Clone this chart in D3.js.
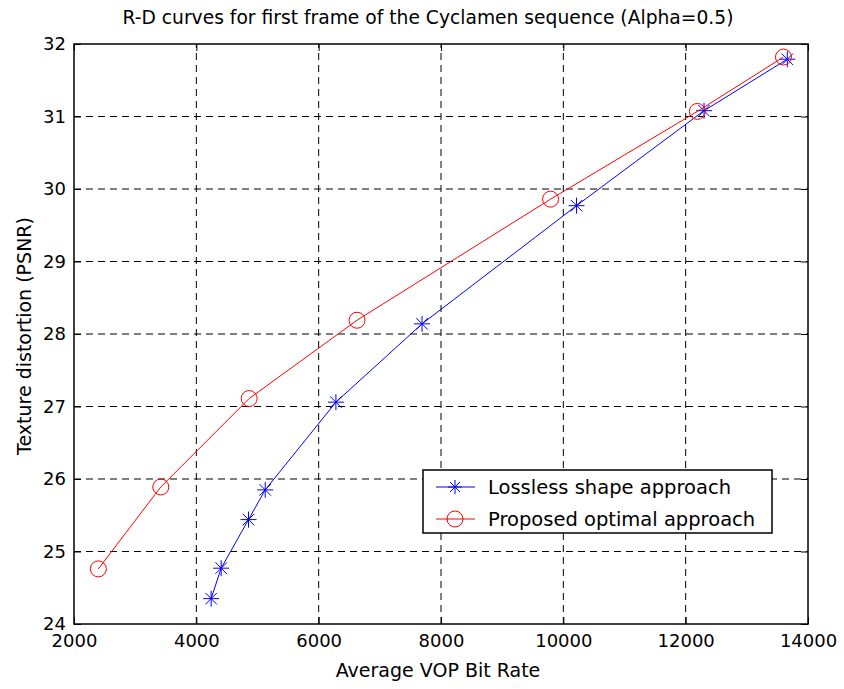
<!DOCTYPE html>
<html lang="en">
<head>
<meta charset="utf-8">
<title>R-D curves</title>
<script src="https://d3js.org/d3.v7.min.js"></script>
<style>
  body { margin: 0; background: #fff; }
  svg text { font-family: "DejaVu Sans", Arial, sans-serif; fill: #000; }
  .grid line { stroke: #000; stroke-dasharray: 7,5; stroke-width: 1; }
</style>
</head>
<body>
<div id="chart"></div>
<script>
  // bit rate (x) and PSNR (y) for both approaches
  var losslessRate = [4242, 4406, 4853, 5126, 6282, 7690, 10216, 12300, 13662];
  var losslessPsnr = [24.35, 24.77, 25.44, 25.85, 27.06, 28.14, 29.77, 31.08, 31.79];
  var optimalRate = [2398, 3419, 4864, 6627, 9791, 12191, 13599];
  var optimalPsnr = [24.76, 25.89, 27.11, 28.19, 29.86, 31.07, 31.82];
  var xTicks = [2000, 4000, 6000, 8000, 10000, 12000, 14000];
  var yTicks = [24, 25, 26, 27, 28, 29, 30, 31, 32];
  var seriesNames = ["Lossless shape approach", "Proposed optimal approach"];

  var width = 844, height = 689;
  var margin = {left: 74, right: 36, top: 44, bottom: 65};

  var svg = d3.select("#chart").append("svg")
      .attr("width", width)
      .attr("height", height);

  var x = d3.scaleLinear().domain([2000, 14000]).range([margin.left, width - margin.right]);
  var y = d3.scaleLinear().domain([24, 32]).range([height - margin.bottom, margin.top]);

  // grid
  var grid = svg.append("g").attr("class", "grid");
  grid.selectAll("line.v").data(xTicks.slice(1, -1)).enter().append("line")
      .attr("x1", function(d) { return x(d); }).attr("x2", function(d) { return x(d); })
      .attr("y1", y(24)).attr("y2", y(32));
  grid.selectAll("line.h").data(yTicks.slice(1, -1)).enter().append("line")
      .attr("y1", function(d) { return y(d); }).attr("y2", function(d) { return y(d); })
      .attr("x1", x(2000)).attr("x2", x(14000));

  // axes (ticks inside, like matlab)
  function styleAxis(g) {
    g.select(".domain").remove();
    g.selectAll(".tick line").attr("stroke", "#000").attr("stroke-width", 1);
    g.selectAll(".tick text").attr("font-size", "18px").attr("fill", "#000")
      .attr("font-family", "DejaVu Sans, Arial, sans-serif");
  }
  svg.append("g").attr("transform", "translate(0," + y(24) + ")")
      .call(d3.axisBottom(x).tickValues(xTicks).tickSize(-7).tickPadding(10).tickFormat(d3.format("d")))
      .call(styleAxis);
  svg.append("g").attr("transform", "translate(0," + y(32) + ")")
      .call(d3.axisTop(x).tickValues(xTicks).tickSize(-7).tickFormat(""))
      .call(styleAxis);
  svg.append("g").attr("transform", "translate(" + x(2000) + ",0)")
      .call(d3.axisLeft(y).tickValues(yTicks).tickSize(-7).tickPadding(8).tickFormat(d3.format("d")))
      .call(styleAxis);
  svg.append("g").attr("transform", "translate(" + x(14000) + ",0)")
      .call(d3.axisRight(y).tickValues(yTicks).tickSize(-7).tickFormat(""))
      .call(styleAxis);

  svg.append("rect")
      .attr("x", x(2000)).attr("y", y(32))
      .attr("width", x(14000) - x(2000)).attr("height", y(24) - y(32))
      .attr("fill", "none").attr("stroke", "#000").attr("stroke-width", 1.5);

  var line = d3.line();

  function starPath(cx, cy, s) {
    var d = s * 0.72;
    return "M" + (cx - s) + "," + cy + "H" + (cx + s) +
      "M" + cx + "," + (cy - s) + "V" + (cy + s) +
      "M" + (cx - d) + "," + (cy - d) + "L" + (cx + d) + "," + (cy + d) +
      "M" + (cx - d) + "," + (cy + d) + "L" + (cx + d) + "," + (cy - d);
  }

  // lossless series (blue stars)
  var lossPts = losslessRate.map(function(r, i) { return [x(r), y(losslessPsnr[i])]; });
  svg.append("path").attr("d", line(lossPts))
      .attr("fill", "none").attr("stroke", "#0000ff").attr("stroke-width", 1);
  svg.append("g").selectAll("path").data(lossPts).enter().append("path")
      .attr("d", function(p) { return starPath(p[0], p[1], 8); })
      .attr("stroke", "#0000ff").attr("stroke-width", 1).attr("fill", "none");

  // optimal series (red circles)
  var optPts = optimalRate.map(function(r, i) { return [x(r), y(optimalPsnr[i])]; });
  svg.append("path").attr("d", line(optPts))
      .attr("fill", "none").attr("stroke", "#ff0000").attr("stroke-width", 1);
  svg.append("g").selectAll("circle").data(optPts).enter().append("circle")
      .attr("cx", function(p) { return p[0]; }).attr("cy", function(p) { return p[1]; })
      .attr("r", 8).attr("fill", "none").attr("stroke", "#ff0000").attr("stroke-width", 1);

  // legend
  var lg = svg.append("g").attr("transform", "translate(423,470)");
  lg.append("rect").attr("width", 349).attr("height", 63)
      .attr("fill", "#fff").attr("stroke", "#000").attr("stroke-width", 1.5);
  var rows = [{color: "#0000ff", mark: "star"}, {color: "#ff0000", mark: "circle"}];
  rows.forEach(function(r, i) {
    var ly = 17 + i * 32;
    lg.append("line").attr("x1", 13).attr("x2", 52).attr("y1", ly).attr("y2", ly)
        .attr("stroke", r.color).attr("stroke-width", 1);
    if (r.mark == "star") {
      lg.append("path").attr("d", starPath(32, ly, 7)).attr("stroke", r.color).attr("fill", "none");
    } else {
      lg.append("circle").attr("cx", 32).attr("cy", ly).attr("r", 8)
          .attr("stroke", r.color).attr("fill", "none");
    }
    lg.append("text").attr("x", 65).attr("y", ly).attr("dy", "0.35em")
        .attr("font-size", "19.5px").text(seriesNames[i]);
  });

  // title and labels
  svg.append("text").attr("x", 428).attr("y", 24).attr("text-anchor", "middle")
      .attr("font-size", "18.7px").text("R-D curves for first frame of the Cyclamen sequence (Alpha=0.5)");
  svg.append("text").attr("x", 438).attr("y", 677).attr("text-anchor", "middle")
      .attr("font-size", "19px").text("Average VOP Bit Rate");
  svg.append("text").attr("transform", "translate(31," + 336 + ") rotate(-90)")
      .attr("text-anchor", "middle").attr("font-size", "19px").text("Texture distortion (PSNR)");
</script>
</body>
</html>
